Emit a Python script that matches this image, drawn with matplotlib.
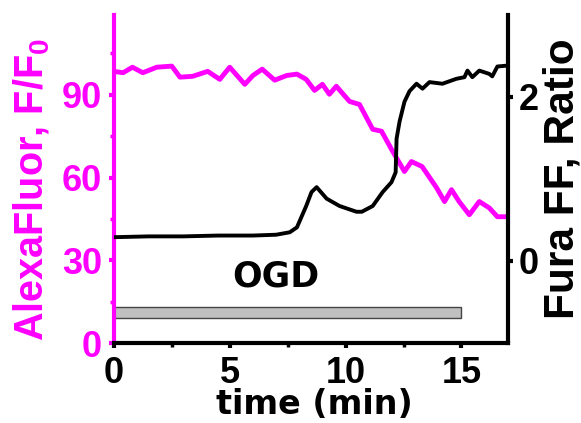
import matplotlib
matplotlib.use("Agg")
import matplotlib.pyplot as plt
from matplotlib.patches import Rectangle
from matplotlib.ticker import MultipleLocator

plt.rcParams['font.family'] = ['Liberation Sans', 'DejaVu Sans']
plt.rcParams['font.weight'] = 'bold'
plt.rcParams['mathtext.fontset'] = 'custom'
plt.rcParams['mathtext.rm'] = 'Liberation Sans:bold'
plt.rcParams['mathtext.default'] = 'rm'

MAGENTA = '#ff00ff'

# AlexaFluor trace (left axis)
alexa_t = [0.0, 0.4, 0.8, 1.25, 1.85, 2.5, 2.85, 3.4, 4.05, 4.57, 5.0, 5.65,
           6.0, 6.4, 6.94, 7.46, 7.9, 8.3, 8.66, 9.0, 9.3, 9.6, 10.17, 10.6,
           11.17, 11.55, 12.03, 12.54, 12.84, 13.3, 13.92, 14.27, 14.57, 14.9,
           15.34, 15.77, 16.2, 16.55, 16.94]
alexa_v = [98.5, 98.0, 100.0, 98.0, 100.0, 100.4, 96.4, 96.7, 98.5, 95.6, 100.0, 93.8,
           97.0, 99.3, 95.3, 97.0, 97.5, 95.6, 91.6, 93.8, 90.2, 93.1, 87.6, 86.5,
           77.5, 76.8, 69.5, 62.2, 65.8, 64.0, 56.4, 51.3, 55.6, 51.3,
           46.5, 51.3, 49.0, 45.8, 45.8]

# Fura FF ratio trace (right axis)
fura_t = [0.0, 1.5, 3.0, 4.5, 6.0, 7.0, 7.59, 7.9, 8.3, 8.53, 8.75, 9.18, 9.74,
          10.47, 10.7, 11.17, 11.6, 11.98, 12.16, 12.2, 12.33, 12.54, 12.76,
          13.06, 13.32, 13.62, 14.18, 14.78, 15.13, 15.26, 15.47, 15.77, 16.2,
          16.33, 16.55, 16.94]
fura_v = [0.29, 0.30, 0.30, 0.31, 0.31, 0.32, 0.35, 0.41, 0.67, 0.84, 0.90, 0.76, 0.67,
          0.60, 0.60, 0.67, 0.84, 0.96, 1.08, 1.49, 1.70, 1.94, 2.07,
          2.16, 2.10, 2.18, 2.16, 2.22, 2.24, 2.32, 2.24, 2.32, 2.28,
          2.25, 2.37, 2.38]

bar_start, bar_end = 0, 15
bar_label = 'OGD'

fig = plt.figure(figsize=(5.81, 4.23), dpi=100)
ax = fig.add_axes([0.196, 0.189, 0.678, 0.776])
ax2 = ax.twinx()

ax.plot(alexa_t, alexa_v, color=MAGENTA, lw=3.5, solid_joinstyle='round')
ax2.plot(fura_t, fura_v, color='black', lw=2.8, solid_joinstyle='round')

ax.add_patch(Rectangle((bar_start, 9.1), bar_end - bar_start, 4.0,
                       facecolor='#c0c0c0', edgecolor='#444444', lw=1.0))
ax.text(6.98, 20.4, bar_label, ha='center', va='baseline', fontsize=25,
        fontweight='bold', family=['DejaVu Sans'])

ax.set_xlim(0, 17)
ax.set_ylim(0, 119)
ax2.set_ylim(-1, 3)

ax.xaxis.set_major_locator(MultipleLocator(5))
ax.xaxis.set_minor_locator(MultipleLocator(2.5))
ax.yaxis.set_major_locator(MultipleLocator(30))
ax.yaxis.set_minor_locator(MultipleLocator(15))
ax2.yaxis.set_major_locator(MultipleLocator(2))

for a in (ax, ax2):
    a.spines['top'].set_visible(False)
    for s in a.spines.values():
        s.set_linewidth(3)
ax.spines['left'].set_color(MAGENTA)
ax.spines['right'].set_visible(False)
ax2.spines['left'].set_visible(False)
ax2.spines['bottom'].set_visible(False)
ax2.spines['right'].set_color('black')

ax.tick_params(axis='x', which='major', length=3.5, width=3, labelsize=26, pad=6, colors='black')
ax.tick_params(axis='x', which='minor', length=3, width=2.5)
ax.tick_params(axis='y', which='major', length=3.5, width=3, labelsize=26, colors=MAGENTA, pad=5)
ax.tick_params(axis='y', which='minor', length=3, width=2.5, colors=MAGENTA)
ax2.tick_params(axis='y', which='major', length=3.5, width=3, labelsize=26, colors='black', pad=4.5)

ax.set_xlabel('time (min)', fontsize=24, fontweight='bold', family=['DejaVu Sans'])
ax.xaxis.set_label_coords(0.509, -0.136)
ax.set_ylabel(r'AlexaFluor, F/F$_0$', fontsize=28.5, fontweight='bold', color=MAGENTA)
ax.yaxis.set_label_coords(-0.157, 0.468)
ax2.set_ylabel('Fura FF, Ratio', fontsize=30.5, fontweight='bold', color='black')
ax2.yaxis.set_label_coords(1.087, 0.5)

fig.savefig('out.png', dpi=100)
